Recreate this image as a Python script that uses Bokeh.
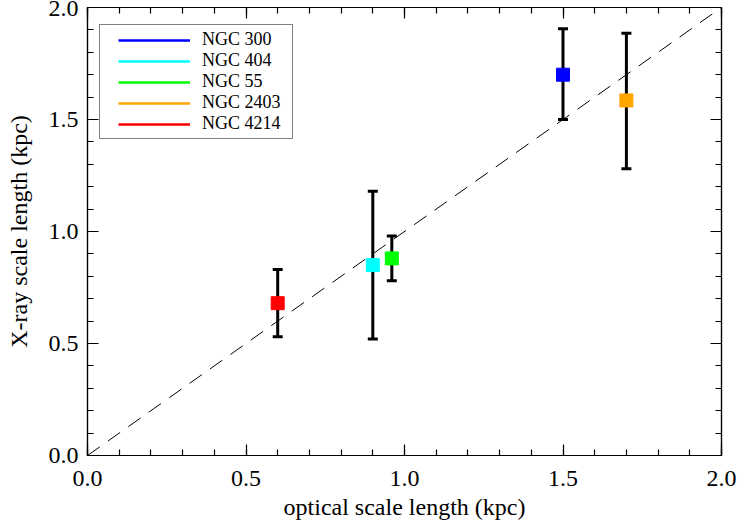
from bokeh.plotting import figure
from bokeh.models import (Range1d, LinearAxis, SingleIntervalTicker, PrintfTickFormatter,
                          Whisker, TeeHead, ColumnDataSource, Slope, Legend, LegendItem,
                          CustomLabelingPolicy)
from bokeh.embed import file_html
from bokeh.resources import INLINE

# Disk scale lengths of five nearby galaxies
galaxies = ["NGC 300", "NGC 404", "NGC 55", "NGC 2403", "NGC 4214"]
colors = ["#0000ff", "#00ffff", "#00ff00", "#ffa500", "#ff0000"]
optical_kpc = [1.50, 0.90, 0.96, 1.70, 0.60]
xray_kpc = [1.70, 0.85, 0.88, 1.585, 0.68]
xray_lo = [1.50, 0.52, 0.78, 1.28, 0.53]
xray_hi = [1.905, 1.18, 0.98, 1.885, 0.83]

SERIF = "Liberation Serif"
NAN = float("nan")

src = ColumnDataSource(dict(x=optical_kpc, y=xray_kpc, lo=xray_lo, hi=xray_hi,
                            color=colors, name=galaxies))

p = figure(width=737, height=523, output_backend="svg", toolbar_location=None,
           x_range=Range1d(0, 2), y_range=Range1d(0, 2),
           x_axis_label="optical scale length (kpc)",
           y_axis_label="X-ray scale length (kpc)",
           min_border_left=87, min_border_right=16,
           min_border_top=7, min_border_bottom=68)
p.grid.visible = False
p.outline_line_color = "black"
p.outline_line_width = 1.2
p.background_fill_color = "white"
p.border_fill_color = "white"

# mirrored axes on top/right carry ticks only
no_labels = CustomLabelingPolicy(code="""
const all = [...indices]
for (const i of all) indices.unset(i)
return indices
""")


def style_axis(ax, labelled=True):
    ax.ticker = SingleIntervalTicker(interval=0.5, num_minor_ticks=5)
    ax.formatter = PrintfTickFormatter(format="%.1f")
    ax.major_tick_in = 11
    ax.major_tick_out = 0
    ax.minor_tick_in = 6
    ax.minor_tick_out = 0
    ax.axis_line_color = "black"
    ax.axis_line_width = 1.2
    ax.major_tick_line_color = "black"
    ax.major_tick_line_width = 1.2
    ax.minor_tick_line_color = "black"
    ax.minor_tick_line_width = 1.2
    if labelled:
        ax.major_label_text_font = SERIF
        ax.major_label_text_font_size = "24px"
        ax.major_label_text_color = "black"
        ax.major_label_standoff = 9
        ax.axis_label_text_font = SERIF
        ax.axis_label_text_font_size = "24px"
        ax.axis_label_text_font_style = "normal"
        ax.axis_label_text_color = "black"
        ax.axis_label_standoff = 10
    else:
        ax.major_label_policy = no_labels
        ax.major_label_text_font_size = "1px"
        ax.major_label_standoff = 0
        ax.axis_label = None


style_axis(p.xaxis[0])
style_axis(p.yaxis[0])
p.xaxis[0].major_label_standoff = 15
p.xaxis[0].axis_label_standoff = 5
p.yaxis[0].axis_label_standoff = 14

top_axis = LinearAxis()
right_axis = LinearAxis()
style_axis(top_axis, labelled=False)
style_axis(right_axis, labelled=False)
p.add_layout(top_axis, "above")
p.add_layout(right_axis, "right")

# one-to-one reference line
p.add_layout(Slope(gradient=1, y_intercept=0, line_color="black", line_width=1,
                   line_dash="15 10", level="underlay"))

# X-ray scale length uncertainties
whisk = Whisker(base="x", lower="lo", upper="hi", source=src, dimension="height",
                line_color="black", line_width=3, level="underlay",
                lower_head=TeeHead(size=10, line_width=3, line_color="black"),
                upper_head=TeeHead(size=10, line_width=3, line_color="black"))
p.add_layout(whisk)

p.scatter(x="x", y="y", source=src, marker="square", size=13,
          fill_color="color", line_color="color")

# legend keys: coloured lines (nothing drawn in the frame), indented by the dash pattern
swatches = [p.line(x=[NAN], y=[NAN], line_color=c, line_width=2.5,
                   line_dash="0 14 72 100")
            for c in colors]

legend = Legend(
    items=[LegendItem(label=g, renderers=[r]) for g, r in zip(galaxies, swatches)],
    location=(12, 316), orientation="vertical", margin=0, padding=4, spacing=0,
    glyph_width=86, glyph_height=18, label_height=18, label_width=86,
    label_standoff=12,
    label_text_font=SERIF, label_text_font_size="18px", label_text_color="black",
    border_line_color="black", border_line_width=1.2,
    background_fill_color="white", background_fill_alpha=1.0)
p.add_layout(legend)

open("out.html", "w").write(file_html(p, INLINE))
